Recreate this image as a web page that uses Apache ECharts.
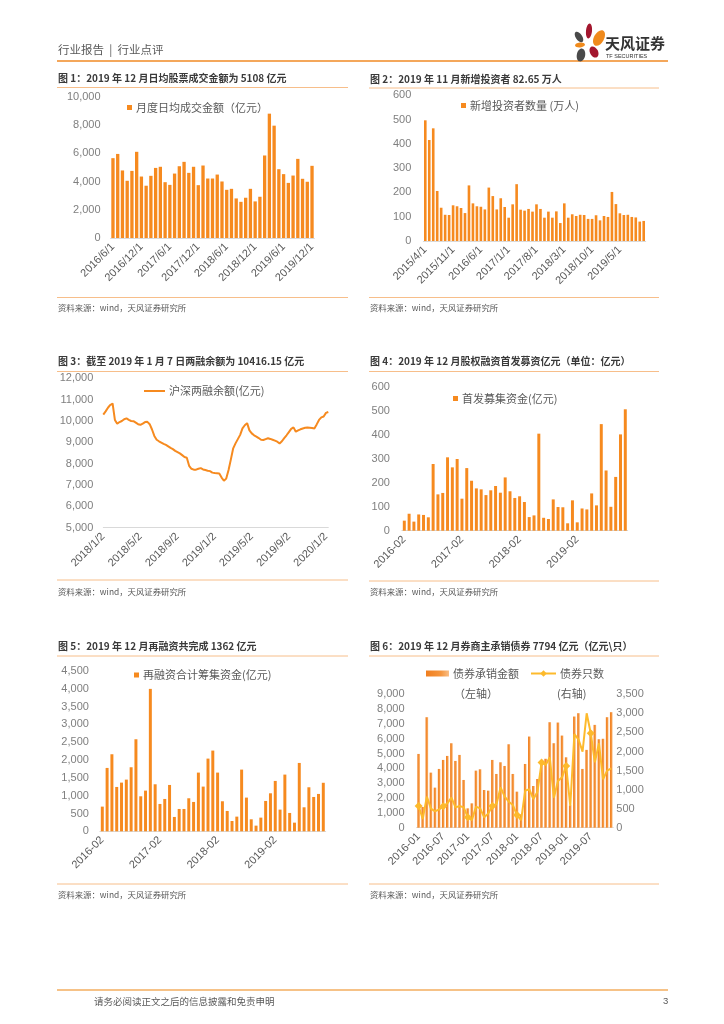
<!DOCTYPE html>
<html><head><meta charset="utf-8">
<script src="https://cdn.jsdelivr.net/npm/echarts@6/dist/echarts.min.js"></script>
<style>html,body{margin:0;padding:0;background:#fff}#c{width:724px;height:1024px}</style>
</head><body><div id="c"></div>
<script>
// ---------- Chart 1 ----------
const c1Cats = ['2016/6/1','2016/7/1','2016/8/1','2016/9/1','2016/10/1','2016/11/1','2016/12/1',
'2017/1/1','2017/2/1','2017/3/1','2017/4/1','2017/5/1','2017/6/1','2017/7/1','2017/8/1','2017/9/1','2017/10/1','2017/11/1','2017/12/1',
'2018/1/1','2018/2/1','2018/3/1','2018/4/1','2018/5/1','2018/6/1','2018/7/1','2018/8/1','2018/9/1','2018/10/1','2018/11/1','2018/12/1',
'2019/1/1','2019/2/1','2019/3/1','2019/4/1','2019/5/1','2019/6/1','2019/7/1','2019/8/1','2019/9/1','2019/10/1','2019/11/1','2019/12/1'];
const c1Vals = [5650,5950,4780,4050,4750,6100,4350,3700,4400,4960,5040,3950,3760,4560,5080,5390,4610,5040,3740,5130,4210,4210,4490,4000,3410,3480,2800,2560,2850,3480,2590,2920,5840,8800,7950,4870,4520,3900,4420,5600,4190,3980,5108];
// ---------- Chart 2 ----------
const c2Cats = ['2015/4/1','2015/5/1','2015/6/1','2015/7/1','2015/8/1','2015/9/1','2015/10/1','2015/11/1','2015/12/1',
'2016/1/1','2016/2/1','2016/3/1','2016/4/1','2016/5/1','2016/6/1','2016/7/1','2016/8/1','2016/9/1','2016/10/1','2016/11/1','2016/12/1',
'2017/1/1','2017/2/1','2017/3/1','2017/4/1','2017/5/1','2017/6/1','2017/7/1','2017/8/1','2017/9/1','2017/10/1','2017/11/1','2017/12/1',
'2018/1/1','2018/2/1','2018/3/1','2018/4/1','2018/5/1','2018/6/1','2018/7/1','2018/8/1','2018/9/1','2018/10/1','2018/11/1','2018/12/1',
'2019/1/1','2019/2/1','2019/3/1','2019/4/1','2019/5/1','2019/6/1','2019/7/1','2019/8/1','2019/9/1','2019/10/1','2019/11/1'];
const c2Vals = [497,416,464,206,137,108,107,147,143,136,115,229,155,143,141,130,220,185,130,176,140,96,151,234,129,125,132,121,151,132,96,121,96,122,74,155,96,110,103,108,107,91,91,106,85,103,99,202,152,114,107,108,99,97,80,82.65];
// ---------- Chart 3 ----------
const c3Dates = [
'2018/1/2','2018/1/9','2018/1/16','2018/1/23','2018/2/2','2018/2/9','2018/2/16','2018/2/23','2018/3/2','2018/3/9','2018/3/16','2018/3/23',
'2018/4/2','2018/4/9','2018/4/16','2018/4/23','2018/5/2','2018/5/9','2018/5/16','2018/5/23','2018/6/2','2018/6/9','2018/6/16','2018/6/23',
'2018/7/2','2018/7/9','2018/7/16','2018/7/23','2018/8/2','2018/8/9','2018/8/16','2018/8/23','2018/9/2','2018/9/9','2018/9/16','2018/9/23',
'2018/10/2','2018/10/9','2018/10/16','2018/10/23','2018/11/2','2018/11/9','2018/11/16','2018/11/23','2018/12/2','2018/12/9','2018/12/16','2018/12/23',
'2019/1/2','2019/1/9','2019/1/16','2019/1/23','2019/2/2','2019/2/9','2019/2/16','2019/2/23','2019/3/2','2019/3/9','2019/3/16','2019/3/23',
'2019/4/2','2019/4/9','2019/4/16','2019/4/23','2019/5/2','2019/5/9','2019/5/16','2019/5/23','2019/6/2','2019/6/9','2019/6/16','2019/6/23',
'2019/7/2','2019/7/9','2019/7/16','2019/7/23','2019/8/2','2019/8/9','2019/8/16','2019/8/23','2019/9/2','2019/9/9','2019/9/16','2019/9/23',
'2019/10/2','2019/10/9','2019/10/16','2019/10/23','2019/11/2','2019/11/9','2019/11/16','2019/11/23','2019/12/2','2019/12/9','2019/12/16','2019/12/23',
'2020/1/2','2020/1/7'];
const c3Vals = [10300,10450,10620,10750,10820,10050,9870,9950,10000,10080,10120,10050,10000,9990,9920,9850,9820,9880,9950,9960,
9850,9600,9300,9120,9050,8990,8930,8880,8810,8740,8680,8600,8540,8480,8400,8310,8280,7900,7760,7720,
7720,7760,7790,7730,7700,7670,7650,7580,7560,7550,7540,7350,7200,7300,7700,8200,8720,8950,9150,9350,
9650,9800,9900,9560,9420,9330,9270,9200,9120,9110,9150,9190,9160,9120,9080,9030,8950,9050,9200,9330,
9480,9630,9700,9500,9560,9610,9650,9680,9690,9680,9670,9650,9840,10050,10170,10210,10380,10420];
// ---------- Chart 4 / 5 ----------
const c45Cats = ['2016-02','2016-03','2016-04','2016-05','2016-06','2016-07','2016-08','2016-09','2016-10','2016-11','2016-12',
'2017-01','2017-02','2017-03','2017-04','2017-05','2017-06','2017-07','2017-08','2017-09','2017-10','2017-11','2017-12',
'2018-01','2018-02','2018-03','2018-04','2018-05','2018-06','2018-07','2018-08','2018-09','2018-10','2018-11','2018-12',
'2019-01','2019-02','2019-03','2019-04','2019-05','2019-06','2019-07','2019-08','2019-09','2019-10','2019-11','2019-12'];
const c4Vals = [42,71,38,68,66,56,279,152,158,307,265,300,134,262,209,177,173,149,169,187,159,223,165,137,144,120,57,64,406,54,49,131,99,98,31,127,35,93,89,156,106,446,252,100,225,403,508];
const c5Vals = [693,1779,2163,1245,1367,1451,1798,2584,983,1142,3998,1320,768,908,1301,403,627,627,927,824,1648,1255,2041,2266,1648,843,571,290,412,1732,946,337,159,384,852,1067,1414,609,1592,515,243,1919,674,1236,964,1049,1362];
// ---------- Chart 6 ----------
const c6Cats = ['2016-01','2016-02','2016-03','2016-04','2016-05','2016-06','2016-07','2016-08','2016-09','2016-10','2016-11','2016-12',
'2017-01','2017-02','2017-03','2017-04','2017-05','2017-06','2017-07','2017-08','2017-09','2017-10','2017-11','2017-12',
'2018-01','2018-02','2018-03','2018-04','2018-05','2018-06','2018-07','2018-08','2018-09','2018-10','2018-11','2018-12',
'2019-01','2019-02','2019-03','2019-04','2019-05','2019-06','2019-07','2019-08','2019-09','2019-10','2019-11','2019-12'];
const c6Bars = [4977,1400,7455,3716,2703,3964,4572,4842,5698,4505,4910,3221,1306,1644,3851,3941,2545,2500,4572,3626,4414,4166,5630,3626,2432,900,4300,6150,2815,3288,4300,4650,7117,5700,7095,6216,4750,1500,7500,7725,3964,5250,6554,6937,5970,6000,7455,7794];
const c6Line = [569,228,814,500,430,480,560,640,790,534,569,534,271,201,552,508,271,376,569,622,1060,814,683,595,333,201,972,1007,753,946,1708,1646,1848,788,1226,1322,1620,569,2452,2320,1996,3003,2478,1716,2215,1270,1497,1559];

const FONT = "'Liberation Sans','Noto Sans CJK SC',sans-serif";
const CJK = "'Noto Sans CJK SC','Liberation Sans',sans-serif";
const ORANGE = '#F68A1F';
const fmt = v => v.toLocaleString('en-US');

function catAxis(gi, data, interval, bg) {
  return {type:'category', gridIndex:gi, data, boundaryGap: bg !== false,
    axisLine:{show:true, lineStyle:{color:'#D9D9D9'}}, axisTick:{show:false},
    axisLabel:{interval, rotate:45, fontSize:11, color:'#595959', fontFamily:FONT, margin:7}};
}
function yLab(margin) {
  return {fontSize:11, color:'#7F7F7F', fontFamily:FONT, margin, formatter:fmt};
}
function valAxis(gi, min, max, interval, margin, extra) {
  return Object.assign({type:'value', gridIndex:gi, min, max, interval,
    splitLine:{show:false}, axisLine:{show:false}, axisTick:{show:false},
    axisLabel:yLab(margin)}, extra || {});
}
function legend(name, left, top, icon, w, h) {
  const l = {data:[name], left, top, itemWidth:w, itemHeight:h, padding:0, itemGap:0,
    textStyle:{fontSize:11, color:'#595959', fontFamily:CJK, padding:[0,0,0,-1]}, selectedMode:false};
  if (icon) l.icon = icon;
  return l;
}
function T(x, y, text, size, color, bold, font) {
  return {type:'text', x, y, silent:true, style:{text, fill:color, font:(bold?'bold ':'') + size + 'px ' + (font || CJK), verticalAlign:'middle', align:'left'}};
}
function L(x1, y, x2, color, w) {
  return {type:'line', silent:true, shape:{x1, y1:y, x2, y2:y}, style:{stroke:color || '#F7BE8A', lineWidth:w || 1}};
}
function E(cx, cy, rx, ry, rot, color) {
  return {type:'ellipse', silent:true, x:cx, y:cy, rotation:rot, shape:{cx:0, cy:0, rx, ry}, style:{fill:color}};
}

const SRC = '资料来源：wind，天风证券研究所';
const TS = 10;
const graphics = [
  T(58, 50, '行业报告  |  行业点评', 11.5, '#595959'),
  L(57, 61, 668, '#F08A24', 1.5),
  E(579, 37, 3.2, 6, 0.6, '#4A4A4A'),
  E(589, 31, 3, 7.5, -0.1, '#A3162E'),
  E(599, 38, 5, 8.5, -0.5, '#F08A1C'),
  E(580, 45, 5, 2.4, 0.1, '#F08A1C'),
  E(594, 52, 4, 6, 0.5, '#A3162E'),
  E(581, 55, 4.2, 6.5, -0.2, '#4A4A4A'),
  T(605, 43, '天风证券', 15, '#333333', true),
  T(606, 56, 'TF SECURITIES', 5.5, '#333333', false, FONT),
  // titles
  T(58, 78.5, '图 1：2019 年 12 月日均股票成交金额为 5108 亿元', TS, '#3A3A3A', true),
  T(370, 79, '图 2：2019 年 11 月新增投资者 82.65 万人', TS, '#3A3A3A', true),
  T(58, 361.5, '图 3：截至 2019 年 1 月 7 日两融余额为 10416.15 亿元', TS, '#3A3A3A', true),
  T(370, 361.5, '图 4：2019 年 12 月股权融资首发募资亿元（单位：亿元）', TS, '#3A3A3A', true),
  T(58, 646, '图 5：2019 年 12 月再融资共完成 1362 亿元', TS, '#3A3A3A', true),
  T(370, 646.5, '图 6：2019 年 12 月券商主承销债券 7794 亿元（亿元\\只）', TS, '#3A3A3A', true),
  L(57, 87.5, 348), L(369, 88, 659), L(57, 371.5, 348), L(369, 371.5, 659), L(57, 656, 348), L(369, 656, 659),
  L(57, 297.5, 348), L(369, 297.5, 659), L(57, 580, 348), L(369, 581, 659), L(57, 884, 348), L(369, 884, 659),
  T(58, 307.5, SRC, 8.4, '#595959'), T(370, 307.5, SRC, 8.4, '#595959'),
  T(58, 591.5, SRC, 8.4, '#595959'), T(370, 591.5, SRC, 8.4, '#595959'),
  T(58, 895, SRC, 8.4, '#595959'), T(370, 895, SRC, 8.4, '#595959'),
  T(454, 694, '（左轴）', 11, '#595959'),
  T(557, 694, '(右轴)', 11, '#595959'),
  L(57, 990, 668, '#F3AE5F', 1.5),
  T(94, 1001, '请务必阅读正文之后的信息披露和免责申明', 9.5, '#595959'),
  T(663, 1001, '3', 9.5, '#595959', false, FONT)
];

const option = {
  backgroundColor:'#fff',
  animation:false,
  grid:[
    {left:110.6, top:96.7, width:203.8, height:141.3},
    {left:423.3, top:95.3, width:222.4, height:145.7},
    {left:103.3, top:378.3, width:225, height:149.4},
    {left:401.9, top:387.3, width:225.8, height:143.4},
    {left:99.9, top:671, width:225.8, height:160.3},
    {left:416.6, top:694.3, width:196.7, height:133.4}
  ],
  xAxis:[
    catAxis(0, c1Cats, 5),
    catAxis(1, c2Cats, 6),
    catAxis(2, c3Dates, 15, false),
    catAxis(3, c45Cats, 11),
    catAxis(4, c45Cats, 11),
    catAxis(5, c6Cats, 5)
  ],
  yAxis:[
    valAxis(0, 0, 10000, 2000, 10),
    valAxis(1, 0, 600, 100, 12),
    valAxis(2, 5000, 12000, 1000, 10),
    valAxis(3, 0, 600, 100, 12),
    valAxis(4, 0, 4500, 500, 11),
    valAxis(5, 0, 9000, 1000, 12),
    valAxis(5, 0, 3500, 500, 3, {position:'right', alignTicks:false})
  ],
  legend:[
    legend('月度日均成交金额（亿元）', 127, 102, 'rect', 5, 5),
    legend('新增投资者数量 (万人)', 461, 100, 'rect', 5, 5),
    legend('沪深两融余额(亿元)', 144, 385.5, 'rect', 21, 2),
    legend('首发募集资金(亿元)', 453, 393, 'rect', 5, 5),
    legend('再融资合计筹集资金(亿元)', 134, 669.5, 'rect', 5, 5),
    legend('债券承销金额', 426, 668, 'rect', 23, 6),
    legend('债券只数', 530, 668, null, 25, 8)
  ],
  series:[
    {type:'bar', name:'月度日均成交金额（亿元）', xAxisIndex:0, yAxisIndex:0, data:c1Vals, barWidth:'70%', itemStyle:{color:ORANGE}},
    {type:'bar', name:'新增投资者数量 (万人)', xAxisIndex:1, yAxisIndex:1, data:c2Vals, barWidth:'66%', itemStyle:{color:ORANGE}},
    {type:'line', name:'沪深两融余额(亿元)', xAxisIndex:2, yAxisIndex:2, data:c3Vals, showSymbol:false, symbol:'none', lineStyle:{color:ORANGE, width:2}, itemStyle:{color:ORANGE}},
    {type:'bar', name:'首发募集资金(亿元)', xAxisIndex:3, yAxisIndex:3, data:c4Vals, barWidth:'62%', itemStyle:{color:ORANGE}},
    {type:'bar', name:'再融资合计筹集资金(亿元)', xAxisIndex:4, yAxisIndex:4, data:c5Vals, barWidth:'62%', itemStyle:{color:ORANGE}},
    {type:'bar', name:'债券承销金额', xAxisIndex:5, yAxisIndex:5, data:c6Bars, barWidth:'64%',
      itemStyle:{color:new echarts.graphic.LinearGradient(0,0,1,0,[{offset:0,color:'#F07E1E'},{offset:0.65,color:'#F5963F'},{offset:1,color:'#F9BE86'}])}},
    {type:'line', name:'债券只数', xAxisIndex:5, yAxisIndex:6, data:c6Line, symbol:'diamond', symbolSize:8, showSymbol:true,
      lineStyle:{color:'#FDBA2C', width:2}, itemStyle:{color:'#FDBA2C'}}
  ],
  graphic:graphics
};
const chart = echarts.init(document.getElementById('c'));
chart.setOption(option);
</script></body></html>
